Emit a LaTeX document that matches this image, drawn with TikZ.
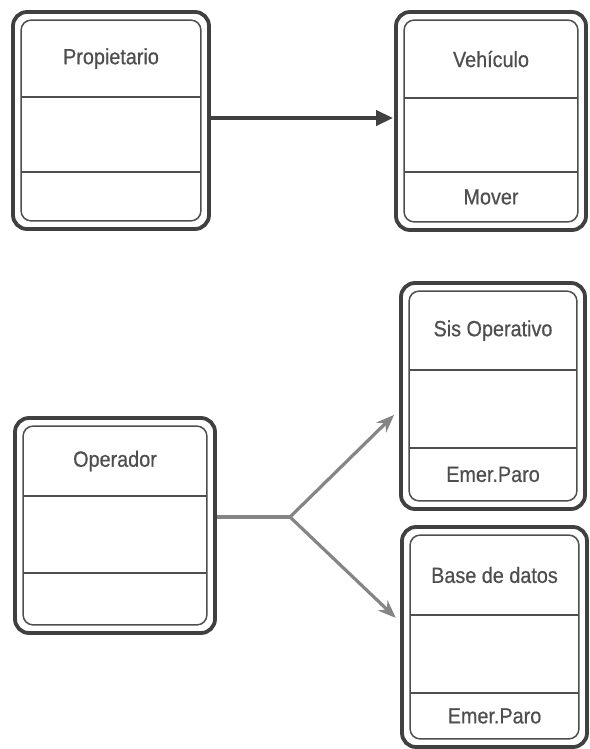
\documentclass[tikz,border=0pt]{standalone}
\usepackage{fontspec}
\setmainfont{Liberation Sans}[FakeStretch=0.9,FakeBold=0.6]
\usetikzlibrary{arrows.meta,calc}

\definecolor{edge}{HTML}{404040}
\definecolor{ink}{HTML}{4E4E4E}
\definecolor{link}{HTML}{858585}

\tikzset{
  outerbox/.style={draw=edge, line width=3.8pt, rounded corners=14pt, inner sep=0pt},
  innerbox/.style={draw=ink, line width=1.5pt, rounded corners=10pt},
  divider/.style={draw=ink, line width=1.5pt},
  lbl/.style={text=ink, font=\fontsize{22}{22}\selectfont, inner sep=0pt},
  mainlink/.style={draw=edge, line width=3.8pt, -{Triangle[length=17pt,width=15pt]}},
  sublink/.style={draw=link, line width=3.2pt},
  subarrow/.style={sublink, -{Stealth[length=18pt,width=14pt]}},
}

% #1 name, #2 centre, #3 width, #4 height, #5/#6 divider heights, #7 title, #8 operation
\newcommand\classbox[8]{%
  \node[outerbox, minimum width=#3pt, minimum height=#4pt] (#1) at (#2) {};
  \draw[innerbox] ([shift={(10,10)}]#1.north west) rectangle ([shift={(-10,-10)}]#1.south east);
  \coordinate (#1-d1) at (0,#5);
  \coordinate (#1-d2) at (0,#6);
  \draw[divider] ([xshift=10pt]#1.west |- #1-d1) -- ([xshift=-10pt]#1.east |- #1-d1);
  \draw[divider] ([xshift=10pt]#1.west |- #1-d2) -- ([xshift=-10pt]#1.east |- #1-d2);
  \node[lbl] (#1-title) at ($(#1.north |- #1-d1)!0.5!([yshift=-10pt]#1.north)$) {#7};
  \node[lbl] (#1-op) at ($(#1.south |- #1-d2)!0.5!([yshift=10pt]#1.south)$) {#8};
}

\begin{document}
\begin{tikzpicture}[x=1pt,y=-1pt]
  \useasboundingbox[fill=white] (0,0) rectangle (589,749);

  \classbox{prop}{111,120.5}{196}{217}{97}{172}{Propietario}{}
  \classbox{veh}{491,121}{190}{218}{98}{172}{Vehículo}{Mover}
  \classbox{oper}{115,525.5}{200}{215}{496}{573}{Operador}{}
  \classbox{sis}{493,396}{184}{226}{370}{448}{Sis Operativo}{Emer.Paro}
  \classbox{base}{494.5,637}{185}{220}{615}{693}{Base de datos}{Emer.Paro}

  % association Propietario -> Vehículo
  \coordinate (top) at (0,118);
  \draw[mainlink] (prop.east |- top) -- ([xshift=-1pt]veh.west |- top);

  % Operador fans out to both systems
  \coordinate (fork) at (290,517);
  \draw[sublink] (oper.east |- fork) -- (fork);
  \draw[subarrow, shorten >=7pt] (fork) -- ([shift={(0,14)}]sis.west);
  \draw[subarrow, shorten >=6pt] (fork) -- ([shift={(0,-15)}]base.west);
\end{tikzpicture}
\end{document}
